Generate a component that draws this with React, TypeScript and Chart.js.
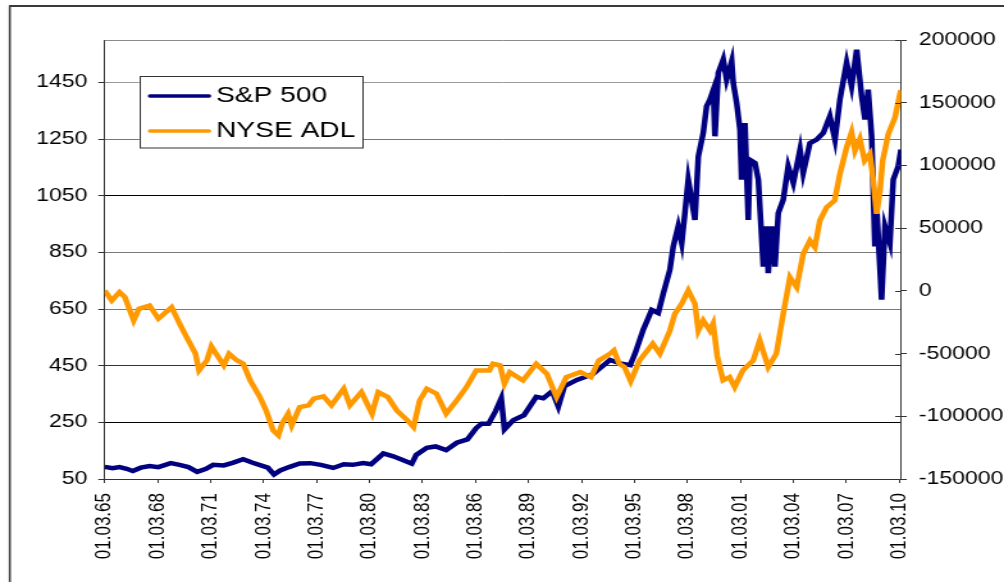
import React, { useEffect, useRef } from 'react';
import { Chart, registerables } from 'chart.js';

Chart.register(...registerables);

// ---- data ----
const seriesNames = ['S&P 500', 'NYSE ADL'];

const spYears = [
  1965.16, 1965.6, 1966.0, 1966.4, 1966.75, 1967.2, 1967.7, 1968.2, 1968.9, 1969.4,
  1969.9, 1970.4, 1970.9, 1971.3, 1971.9, 1972.4, 1973.0, 1973.5, 1974.0, 1974.4,
  1974.75, 1975.1, 1975.6, 1976.2, 1976.8, 1977.4, 1978.1, 1978.7, 1979.2, 1979.8,
  1980.25, 1980.94, 1981.5, 1982.0, 1982.55, 1982.8, 1983.4, 1983.9, 1984.5, 1985.1,
  1985.7, 1986.2, 1986.5, 1986.9, 1987.3, 1987.62, 1987.8, 1988.3, 1988.9, 1989.6,
  1990.0, 1990.5, 1990.85, 1991.2, 1991.9, 1992.8, 1993.78, 1994.35, 1994.92, 1995.2,
  1995.66, 1996.14, 1996.51, 1996.8, 1997.17, 1997.36, 1997.64, 1997.84, 1998.02, 1998.21,
  1998.59, 1998.78, 1999.06, 1999.25, 1999.44, 1999.63, 1999.72, 1999.91, 2000.19, 2000.38,
  2000.67, 2000.76, 2000.95, 2001.14, 2001.23, 2001.42, 2001.61, 2001.7, 2001.99, 2002.18,
  2002.46, 2002.65, 2002.74, 2002.93, 2003.12, 2003.31, 2003.59, 2003.87, 2004.16, 2004.54,
  2004.72, 2005.1, 2005.48, 2005.86, 2006.23, 2006.52, 2006.8, 2007.18, 2007.46, 2007.75,
  2008.03, 2008.22, 2008.4, 2008.6, 2008.78, 2008.88, 2009.16, 2009.35, 2009.63, 2009.82,
  2010.1, 2010.26,
];
const spValues = [
  93, 88, 92, 86, 78, 90, 96, 92, 106, 100,
  92, 75, 86, 100, 98, 107, 120, 108, 98, 90,
  66, 80, 92, 105, 106, 100, 89, 102, 100, 106,
  102, 140, 130, 118, 104, 135, 160, 165, 152, 178,
  190, 230, 245, 245, 290, 335, 225, 258, 275, 340,
  335, 360, 305, 378, 400, 420, 470, 458, 452, 494,
  577, 647, 636, 706, 789, 871, 942, 883, 989, 1107,
  965, 1189, 1272, 1366, 1390, 1424, 1260, 1484, 1531, 1460,
  1525, 1448, 1378, 1283, 1107, 1307, 965, 1177, 1166, 1107,
  800, 942, 777, 942, 800, 989, 1036, 1154, 1095, 1213,
  1130, 1236, 1248, 1272, 1331, 1248, 1390, 1520, 1437, 1566,
  1401, 1319, 1425, 1259, 871, 1012, 683, 942, 883, 1107,
  1154, 1213,
];

const adlYears = [
  1965.16, 1965.56, 1966.0, 1966.3, 1966.8, 1967.1, 1967.7, 1968.2, 1968.95, 1969.4,
  1969.8, 1970.3, 1970.5, 1970.95, 1971.2, 1971.6, 1971.9, 1972.2, 1972.6, 1973.0,
  1973.4, 1973.95, 1974.3, 1974.7, 1975.0, 1975.2, 1975.55, 1975.75, 1976.2, 1976.7,
  1977.0, 1977.55, 1978.0, 1978.7, 1979.05, 1979.7, 1980.3, 1980.65, 1981.2, 1981.7,
  1982.3, 1982.65, 1983.0, 1983.4, 1983.95, 1984.5, 1985.1, 1985.65, 1986.2, 1986.95,
  1987.15, 1987.55, 1987.8, 1988.1, 1988.85, 1989.6, 1990.2, 1990.75, 1991.3, 1992.1,
  1992.7, 1993.15, 1993.78, 1994.0, 1994.3, 1994.6, 1994.95, 1995.45, 1996.2, 1996.6,
  1997.17, 1997.45, 1997.84, 1998.21, 1998.59, 1998.78, 1999.06, 1999.44, 1999.62, 1999.85,
  2000.18, 2000.55, 2000.84, 2001.3, 2001.89, 2002.26, 2002.74, 2003.2, 2003.59, 2003.97,
  2004.35, 2004.72, 2005.1, 2005.38, 2005.66, 2006.05, 2006.5, 2006.8, 2007.18, 2007.46,
  2007.65, 2007.93, 2008.2, 2008.5, 2008.69, 2008.88, 2009.07, 2009.22, 2009.54, 2009.92,
  2010.2, 2010.26,
];
const adlValues = [
  300, -7700, -1000, -5000, -23600, -14300, -11700, -22200, -13000, -26200,
  -36900, -50100, -63400, -55400, -44300, -53000, -59400, -50100, -55000, -58100,
  -71400, -84700, -95300, -111200, -115200, -105900, -97900, -107200, -92700, -91300,
  -86000, -84100, -91300, -78000, -91300, -80700, -97900, -80700, -84700, -95300,
  -103200, -108600, -87300, -78000, -82000, -97900, -87300, -76700, -63400, -63400,
  -58100, -59400, -74000, -64800, -71400, -58100, -66100, -84700, -68800, -64800,
  -68800, -55400, -50100, -47500, -58100, -60800, -72000, -55400, -42200, -50100,
  -31700, -18300, -10300, 300, -10300, -31700, -23600, -31700, -26200, -52000,
  -71400, -68800, -76700, -63400, -55400, -39500, -60800, -50100, -18300, 10900,
  2900, 29500, 40100, 34800, 56000, 66700, 72000, 93200, 114400, 126400,
  111800, 121100, 103800, 109200, 87900, 61400, 79700, 103800, 125100, 138300,
  157000, 160000,
];

const xTickYears = [
  1965.16, 1968.16, 1971.16, 1974.16, 1977.16, 1980.16, 1983.16, 1986.16,
  1989.16, 1992.16, 1995.16, 1998.16, 2001.16, 2004.16, 2007.16, 2010.16,
];
const xTickLabels = [
  '01.03.65', '01.03.68', '01.03.71', '01.03.74', '01.03.77', '01.03.80', '01.03.83', '01.03.86',
  '01.03.89', '01.03.92', '01.03.95', '01.03.98', '01.03.01', '01.03.04', '01.03.07', '01.03.10',
];
const leftTicks = [50, 250, 450, 650, 850, 1050, 1250, 1450];
const rightTicks = [-150000, -100000, -50000, 0, 50000, 100000, 150000, 200000];

// ---- styling ----
const FONT = "'Liberation Sans', Arial, sans-serif";
const COLORS = ['#000080', '#FF9900'];
const gridShade: Record<number, string> = {
  1450: '#9a9a9a', 1250: '#777777', 1050: '#000000', 850: '#7a7a7a',
  650: '#7a7a7a', 450: '#333333', 250: '#000000', 50: '#333333',
};

// internal canvas is narrower and CSS-stretched, as the reference is horizontally stretched
const CSS_W = 1004;
const CSS_H = 582;
const INT_W = 784;
const SX = CSS_W / INT_W;

const decorPlugin = {
  id: 'decor',
  afterDraw(chart: any) {
    const { ctx, chartArea } = chart;
    ctx.save();
    // outer chart frame (left & top visible)
    ctx.strokeStyle = '#3a3a3a';
    ctx.lineWidth = 1.6;
    ctx.beginPath();
    ctx.moveTo(9.8 / SX, 600);
    ctx.lineTo(9.8 / SX, 6);
    ctx.stroke();
    ctx.lineWidth = 2;
    ctx.beginPath();
    ctx.moveTo(9 / SX, 6);
    ctx.lineTo(INT_W + 5, 6);
    ctx.stroke();

    // plot area top border
    ctx.strokeStyle = '#8a8a8a';
    ctx.lineWidth = 1;
    ctx.beginPath();
    ctx.moveTo(chartArea.left, Math.round(chartArea.top) + 0.5);
    ctx.lineTo(chartArea.right, Math.round(chartArea.top) + 0.5);
    ctx.stroke();

    // inner tick marks on the right axis (they cross the axis)
    const s = chart.scales.y2;
    ctx.strokeStyle = '#333333';
    ctx.lineWidth = 1;
    rightTicks.forEach((v) => {
      const y = Math.round(s.getPixelForValue(v)) + 0.5;
      ctx.beginPath();
      ctx.moveTo(chartArea.right - 4.5, y);
      ctx.lineTo(chartArea.right, y);
      ctx.stroke();
    });

    // legend box
    const bx = 139.3 / SX;
    const bxr = 362.7 / SX;
    const by = 76;
    const byb = 147.5;
    ctx.fillStyle = '#ffffff';
    ctx.fillRect(bx, by, bxr - bx, byb - by);
    ctx.strokeStyle = '#333333';
    ctx.lineWidth = 1;
    ctx.strokeRect(Math.round(bx) + 0.5, by + 0.5, Math.round(bxr - bx), byb - by);
    const rows = [96, 131];
    chart.data.datasets.forEach((ds: any, i: number) => {
      const y = rows[i];
      ctx.strokeStyle = ds.borderColor;
      ctx.lineWidth = 3.5;
      ctx.lineCap = 'round';
      ctx.beginPath();
      ctx.moveTo(150 / SX, y);
      ctx.lineTo(209 / SX, y);
      ctx.stroke();
      ctx.fillStyle = '#000000';
      ctx.font = `22px ${FONT}`;
      ctx.textAlign = 'left';
      ctx.textBaseline = 'alphabetic';
      ctx.fillText(ds.label, 216 / SX, y + 6.2);
    });
    ctx.restore();
  },
};

export default function App() {
  const ref = useRef<HTMLCanvasElement | null>(null);

  useEffect(() => {
    const canvas = ref.current;
    if (!canvas) return;
    const chart = new Chart(canvas, {
      type: 'line',
      data: {
        datasets: [
          {
            label: seriesNames[0],
            data: spYears.map((x, i) => ({ x, y: spValues[i] })),
            yAxisID: 'y',
            borderColor: COLORS[0],
            backgroundColor: COLORS[0],
            borderWidth: 4.5,
            pointRadius: 0,
            tension: 0,
            order: 2,
          },
          {
            label: seriesNames[1],
            data: adlYears.map((x, i) => ({ x, y: adlValues[i] })),
            yAxisID: 'y2',
            borderColor: COLORS[1],
            backgroundColor: COLORS[1],
            borderWidth: 4.5,
            pointRadius: 0,
            tension: 0,
            order: 1,
          },
        ],
      },
      options: {
        responsive: false,
        devicePixelRatio: 1,
        animation: false,
        events: [],
        layout: { padding: { left: 0, right: 0, top: 40, bottom: 0 } },
        plugins: {
          legend: { display: false },
          tooltip: { enabled: false },
          title: { display: false },
        },
        scales: {
          x: {
            type: 'linear',
            min: 1965.16,
            max: 2010.26,
            afterBuildTicks: (s: any) => {
              s.ticks = xTickYears.map((v) => ({ value: v }));
            },
            afterFit: (s: any) => {
              s.height = 103;
            },
            ticks: {
              autoSkip: false,
              minRotation: 90,
              maxRotation: 90,
              padding: 10,
              color: '#000000',
              font: { family: FONT, size: 17 },
              callback: (_v: any, i: number) => xTickLabels[i],
            },
            grid: {
              drawOnChartArea: false,
              drawTicks: true,
              tickLength: 4,
              tickColor: '#333333',
            },
            border: { display: true, color: '#333333', width: 1 },
          },
          y: {
            type: 'linear',
            position: 'left',
            min: 50,
            max: 1600,
            afterBuildTicks: (s: any) => {
              s.ticks = leftTicks.map((v) => ({ value: v }));
            },
            afterFit: (s: any) => {
              s.width = 104.7 / SX;
            },
            ticks: {
              padding: 8.5,
              color: '#000000',
              font: { family: FONT, size: 18 },
              callback: (v: any) => String(v),
            },
            grid: {
              color: (c: any) => gridShade[c.tick ? c.tick.value : 0] || '#555555',
              lineWidth: 1,
              drawTicks: true,
              tickLength: 5,
              tickColor: '#333333',
            },
            border: { display: true, color: '#333333', width: 1 },
          },
          y2: {
            type: 'linear',
            position: 'right',
            min: -150000,
            max: 200000,
            afterBuildTicks: (s: any) => {
              s.ticks = rightTicks.map((v) => ({ value: v }));
            },
            afterFit: (s: any) => {
              s.width = INT_W - 901 / SX;
            },
            ticks: {
              padding: 9.5,
              color: '#000000',
              font: { family: FONT, size: 18 },
              callback: (v: any) => String(v),
            },
            grid: {
              drawOnChartArea: false,
              drawTicks: true,
              tickLength: 4.5,
              tickColor: '#333333',
            },
            border: { display: true, color: '#333333', width: 1 },
          },
        },
      },
      plugins: [decorPlugin],
    } as any);
    return () => {
      chart.destroy();
    };
  }, []);

  return (
    <canvas
      ref={ref}
      width={INT_W}
      height={CSS_H}
      style={{ position: 'absolute', left: 0, top: 0, width: `${CSS_W}px`, height: `${CSS_H}px`, display: 'block' }}
    />
  );
}
